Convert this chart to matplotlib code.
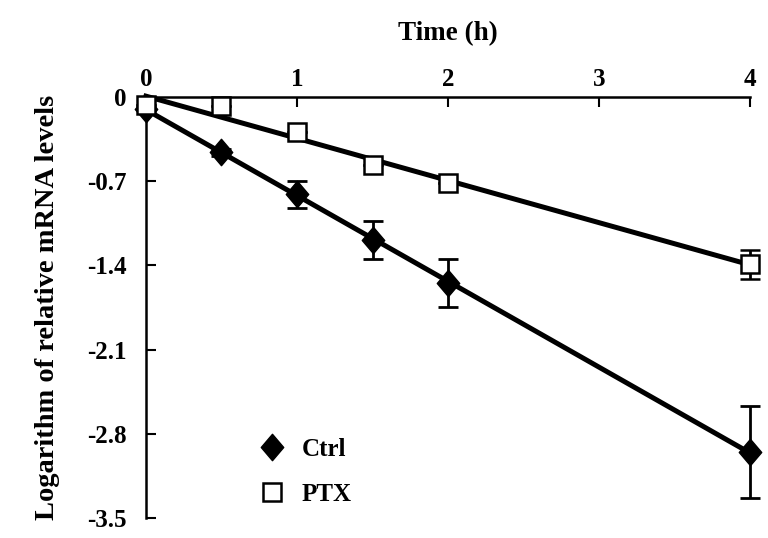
import numpy as np
import matplotlib
matplotlib.use("Agg")
import matplotlib.pyplot as plt
from matplotlib.path import Path

plt.rcParams['font.family'] = ['Liberation Serif', 'DejaVu Serif']
plt.rcParams['font.weight'] = 'bold'
plt.rcParams['axes.unicode_minus'] = False

# data
time_h = [0, 0.5, 1, 1.5, 2, 4]
ctrl = [-0.10, -0.46, -0.81, -1.19, -1.55, -2.95]
ctrl_err = [0.0, 0.03, 0.11, 0.16, 0.20, 0.38]
ptx = [-0.07, -0.08, -0.29, -0.57, -0.72, -1.39]
ptx_err = [0.0, 0.0, 0.0, 0.0, 0.0, 0.12]
x_ticks = [0, 1, 2, 3, 4]
y_ticks = [0, -0.7, -1.4, -2.1, -2.8, -3.5]
y_tick_labels = ["0", "-0.7", "-1.4", "-2.1", "-2.8", "-3.5"]

# slightly tall diamond like the original
diamond = Path([(0, 1), (0.85, 0), (0, -1), (-0.85, 0), (0, 1)],
               [Path.MOVETO, Path.LINETO, Path.LINETO, Path.LINETO, Path.CLOSEPOLY])

fig = plt.figure(figsize=(7.68, 5.38), dpi=100)
ax = fig.add_axes([0.19, 0.037, 0.787, 0.783])

# linear trend lines
xx = np.array([0, 4])
for ys in (ctrl, ptx):
    k, b = np.polyfit(time_h, ys, 1)
    ax.plot(xx, k * xx + b, color='black', lw=3.6, zorder=2, clip_on=False)

ax.errorbar(time_h, ctrl, yerr=ctrl_err, fmt='none', ecolor='black',
            elinewidth=2, capsize=7, capthick=2, zorder=3, clip_on=False)
ax.plot(time_h, ctrl, ls='none', marker=diamond, color='black', ms=19,
        label='Ctrl', zorder=3, clip_on=False)
ax.errorbar(time_h, ptx, yerr=ptx_err, fmt='s', color='black', mfc='white',
            mec='black', mew=1.8, ms=13, ecolor='black', elinewidth=2,
            capsize=7, capthick=2, label='PTX', zorder=4, clip_on=False)

ax.set_xlim(0, 4)
ax.set_ylim(-3.5, 0)
ax.xaxis.tick_top()
ax.xaxis.set_label_position('top')
ax.set_xticks(x_ticks)
ax.set_yticks(y_ticks)
ax.set_yticklabels(y_tick_labels)
ax.tick_params(axis='x', direction='in', length=7, width=1.5, labelsize=18, pad=4)
ax.tick_params(axis='y', direction='in', length=7, width=1.5, labelsize=18, pad=14)
for s in ('right', 'bottom'):
    ax.spines[s].set_visible(False)
for s in ('top', 'left'):
    ax.spines[s].set_linewidth(1.8)

ax.set_xlabel('Time (h)', fontsize=19.5, fontweight='bold', labelpad=20)
ax.set_ylabel('Logarithm of relative mRNA levels', fontsize=20.5,
              fontweight='bold', labelpad=19)

handles, labels = ax.get_legend_handles_labels()
handles = [h[0] if isinstance(h, tuple) else h for h in handles]
ax.legend(handles, labels, loc='lower left', bbox_to_anchor=(0.15, -0.025),
          frameon=False, fontsize=18, handlelength=1.0, handletextpad=0.7,
          labelspacing=0.9)

fig.savefig('out.png', dpi=100)
